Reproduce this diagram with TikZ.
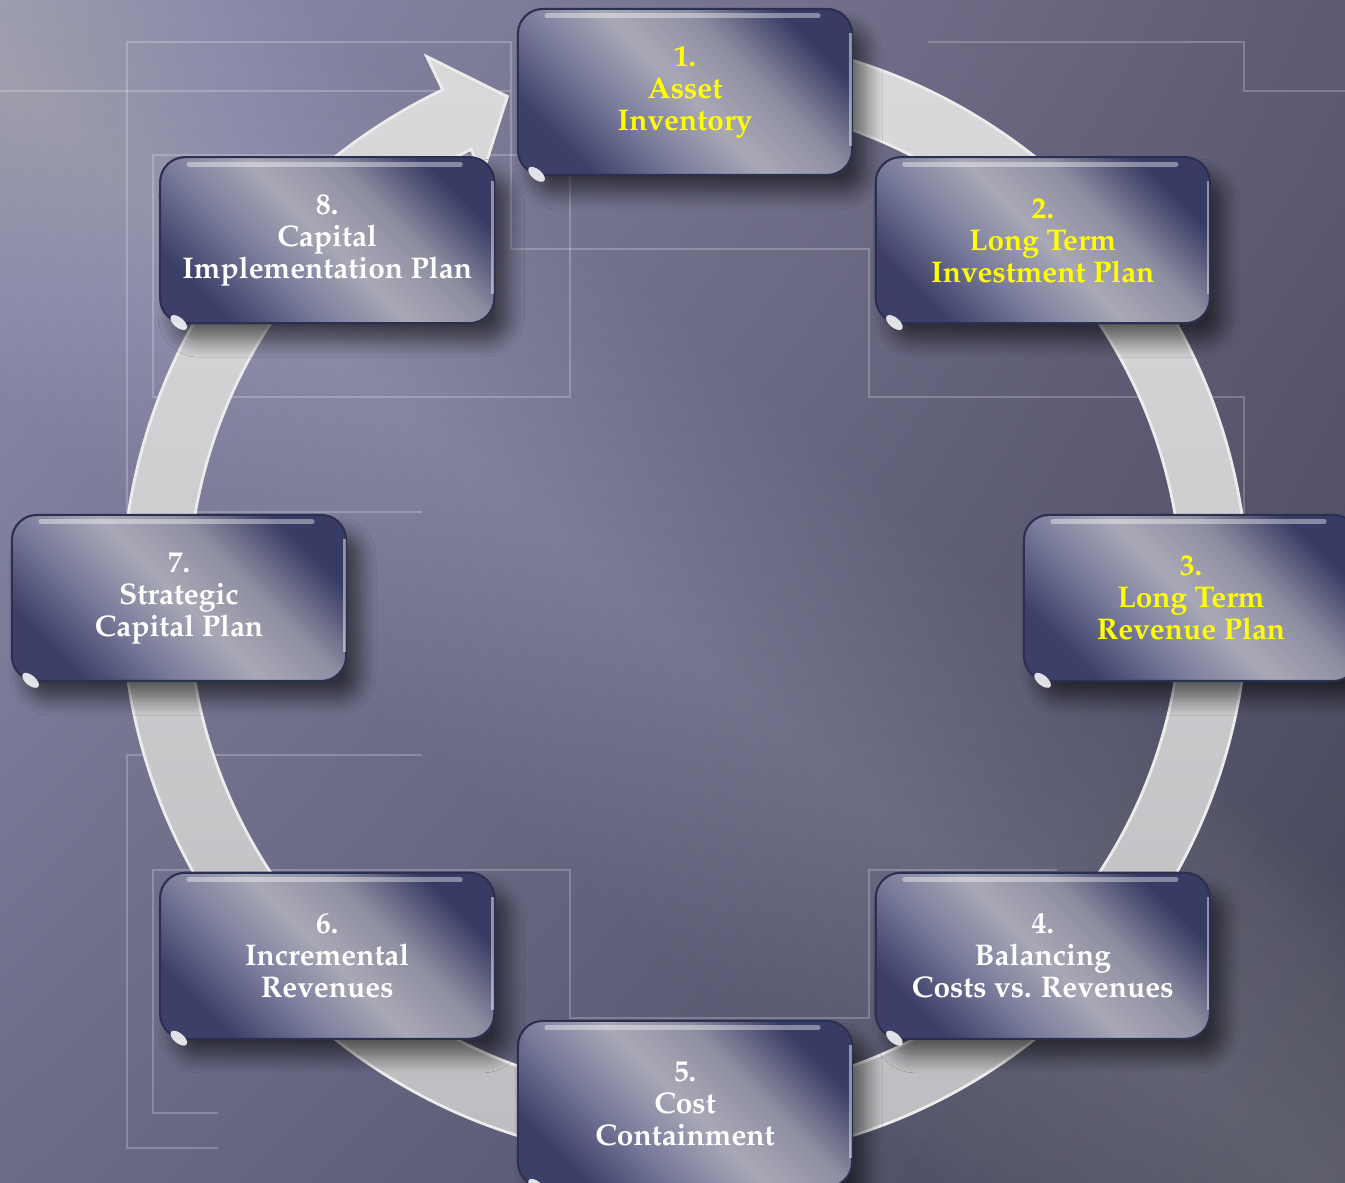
\documentclass[tikz,border=0pt]{standalone}
\usepackage[T1]{fontenc}
\usepackage{mathpazo}
\usetikzlibrary{shadows.blur,shadings}

\definecolor{bgUL}{HTML}{9090B0}
\definecolor{bgUR}{HTML}{5E5A72}
\definecolor{bgLL}{HTML}{6B6B88}
\definecolor{bgLR}{HTML}{44465A}
\definecolor{boxdark}{HTML}{383C64}
\definecolor{boxdarkb}{HTML}{3C4068}
\definecolor{boxmid}{HTML}{7A7C9C}
\definecolor{boxmidb}{HTML}{8E8EA2}
\definecolor{boxlight}{HTML}{A8A8B6}
\definecolor{boxedge}{HTML}{2C3050}
\definecolor{ringtop}{HTML}{DADADC}
\definecolor{ringbot}{HTML}{BCBCC0}
\definecolor{stepyellow}{HTML}{FFFF00}

\pgfdeclareverticalshading{stepshade}{100bp}{color(0bp)=(boxdarkb); color(25bp)=(boxdarkb);
  color(38bp)=(boxmid); color(50bp)=(boxlight); color(62bp)=(boxmidb);
  color(75bp)=(boxdark); color(100bp)=(boxdark)}

\begin{document}
\begin{tikzpicture}[x=0.01cm,y=0.01cm,
  stepbox/.style={rounded corners=0.25cm,minimum width=3.34cm,minimum height=1.66cm,
    align=center,inner sep=0pt,draw=boxedge,line width=0.6pt,
    shading=stepshade,shading angle=-45,
    blur shadow={shadow xshift=0.14cm,shadow yshift=-0.18cm,shadow blur steps=10,shadow blur radius=0.16cm,shadow opacity=55},
    font=\fontsize{8.5}{9.1}\selectfont\bfseries},
  hair/.style={white,opacity=0.22,line width=0.5pt}]
\useasboundingbox (0,0) rectangle (1345,1183);
\clip (0,0) rectangle (1345,1183);

% background
\shade[upper left=bgUL,upper right=bgUR,lower left=bgLL,lower right=bgLR] (0,0) rectangle (1345,1183);
\foreach \w in {15,30,...,240}
  \fill[white,opacity=0.012,rotate around={-40:(560,640)}] (-400,640-\w) rectangle (1600,640+\w);

% thin frame lines
\draw[hair] (127,671) -- (127,1141) -- (511,1141) -- (511,934) -- (869,934) -- (869,786) -- (1244,786) -- (1244,668);
\draw[hair] (0,1092) -- (511,1092);
\draw[hair] (928,1141) -- (1244,1141) -- (1244,1092) -- (1345,1092);
\draw[hair] (127,671) -- (422,671);
\draw[hair] (153,1028) rectangle (570,786);
\draw[hair] (422,428) -- (127,428) -- (127,35) -- (218,35);
\draw[hair] (218,70) -- (153,70) -- (153,313) -- (570,313) -- (570,165) -- (869,165) -- (869,313) -- (1057,313);

% ring with arrow head
\coordinate (C) at (685,585);
\shadedraw[top color=ringtop,bottom color=ringbot,draw=white!85!gray,line width=0.8pt]
  ([shift={(C)}]80:563) arc[start angle=80,end angle=-244.5,radius=563]
  -- ([shift={(C)}]115.5:600) -- ([shift={(C)}]109.5:532) -- ([shift={(C)}]115.5:470)
  -- ([shift={(C)}]115.5:497) arc[start angle=115.5,end angle=440,radius=497] -- cycle;

% steps
\foreach \n/\a/\txt/\col in {
  1/90/{1.\\Asset\\Inventory}/stepyellow,
  2/45/{2.\\Long Term\\Investment Plan}/stepyellow,
  3/0/{3.\\Long Term\\Revenue Plan}/stepyellow,
  4/-45/{4.\\Balancing\\Costs vs. Revenues}/white,
  5/-90/{5.\\Cost\\Containment}/white,
  6/-135/{6.\\Incremental\\Revenues}/white,
  7/180/{7.\\Strategic\\Capital Plan}/white,
  8/135/{8.\\Capital\\Implementation Plan}/white}
  \node[stepbox,text=\col] (\n) at ([shift={(C)}]\a:506) {\txt};

% gloss
\foreach \n in {1,...,8}{
  \draw[white,opacity=0.4,line width=1.4pt,line cap=round]
    ([xshift=0.3cm,yshift=-0.08cm]\n.north west) -- ([xshift=-0.35cm,yshift=-0.08cm]\n.north east);
  \draw[white,opacity=0.45,line width=0.8pt]
    ([xshift=-0.03cm,yshift=-0.25cm]\n.north east) -- ([xshift=-0.03cm,yshift=0.3cm]\n.south east);
  \fill[white,opacity=0.85,rotate around={-40:([xshift=0.14cm,yshift=0.14cm]\n.south west)}]
    ([xshift=0.14cm,yshift=0.14cm]\n.south west) ellipse[x radius=0.1cm,y radius=0.05cm];
}
\end{tikzpicture}
\end{document}
